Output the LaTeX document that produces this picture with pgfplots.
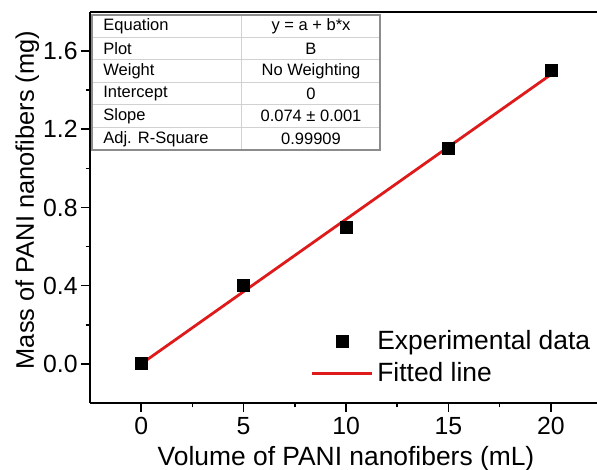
\documentclass[border=0pt]{standalone}
\usepackage{pgfplots}
\pgfplotsset{compat=1.18}
\usepackage{fontspec}
\setmainfont{Liberation Sans}

\definecolor{fitred}{RGB}{222,26,26}
\definecolor{tabline}{gray}{0.82}
\definecolor{tabframe}{gray}{0.55}

\newcommand{\tickfont}{\fontsize{12.4}{15}\selectfont}
\newcommand{\labfont}{\fontsize{13.2}{15.5}\selectfont}
\newcommand{\ylabfont}{\fontsize{12.7}{15}\selectfont}
\newcommand{\tabfont}{\fontsize{8.25}{10}\selectfont}

\pgfplotsset{
  datamark legend/.style={legend image code/.code={\draw[mark repeat=2,mark phase=2,##1]
    plot coordinates {(0pt,0pt) (15pt,0pt) (30pt,0pt)};}},
  fitline legend/.style={legend image code/.code={\draw[##1] (0pt,0pt) -- (30pt,0pt);}},
}

\begin{document}
\begin{tikzpicture}
\begin{axis}[
  scale only axis,
  width=253.5pt, height=195.5pt,
  xmin=-2.5, xmax=22.25,
  ymin=-0.2, ymax=1.8,
  axis lines=left,
  axis line style={-, line width=1pt},
  tick align=outside,
  major tick length=4.5pt, minor tick length=2.2pt,
  every tick/.style={black, line width=0.8pt},
  xtick={0,5,10,15,20},
  ytick={0,0.4,0.8,1.2,1.6},
  minor x tick num=1, minor y tick num=1,
  /pgf/number format/assume math mode=true,
  tick label style={font=\tickfont, inner sep=1.5pt},
  xticklabel style={yshift=-1pt},
  yticklabel style={/pgf/number format/.cd, fixed, fixed zerofill, precision=1},
  xlabel={Volume of PANI nanofibers (mL)},
  ylabel={Mass of PANI nanofibers (mg)},
  xlabel style={font=\labfont, at={(rel axis cs:0.505,-0.1611)}, anchor=base},
  ylabel style={font=\ylabfont, at={(rel axis cs:-0.1105,0.519)}, anchor=base},
  legend style={draw=none, fill=none, font=\labfont,
    at={(rel axis cs:1.007,0.025)}, anchor=south east,
    row sep=1pt},
  legend cell align=left,
  clip=false,
]
% measured masses
\addplot[only marks, mark=square*, mark size=3pt, black, datamark legend]
  coordinates {(0,0) (5,0.4) (10,0.7) (15,1.1) (20,1.5)};
\addlegendentry{Experimental data}
% linear fit through the origin, slope 0.074
\addplot[fitred, line width=1.4pt, no markers, fitline legend]
  coordinates {(0,0) (20,1.48)};
\addlegendentry{Fitted line}

\draw[line width=1pt] (rel axis cs:0,1) -- (rel axis cs:1,1);
\coordinate (SW) at (rel axis cs:0,0);
\coordinate (NW) at (rel axis cs:0,1);
\coordinate (NE) at (rel axis cs:1,1);
\end{axis}

% fit summary table
\begin{scope}[shift={(NW)}]
  \foreach \i in {1,...,5}
    \draw[tabline, line width=0.5pt] (1pt,{-1.5pt-\i*11.25pt}) -- (145pt,{-1.5pt-\i*11.25pt});
  \draw[tabline, line width=0.5pt] (76pt,-1.5pt) -- (76pt,-69pt);
  \draw[tabframe, line width=0.7pt] (1pt,-1.5pt) rectangle (145pt,-69pt);
  \foreach \l/\r [count=\i] in {Equation/{y = a + b*x}, Plot/B, Weight/No Weighting,
      Intercept/0, Slope/{0.074 ± 0.001}, Adj. R-Square/0.99909} {
    \node[anchor=west, inner sep=0pt, font=\tabfont] at (6.5pt,{-1.5pt-(\i-0.5)*11.25pt}) {\l};
    \node[inner sep=0pt, font=\tabfont] at (110.5pt,{-1.5pt-(\i-0.5)*11.25pt}) {\r};
  }
\end{scope}

\pgfresetboundingbox
\path (SW) ++(-45pt,-33.5pt) rectangle ([yshift=6pt]NE);
\end{tikzpicture}
\end{document}
